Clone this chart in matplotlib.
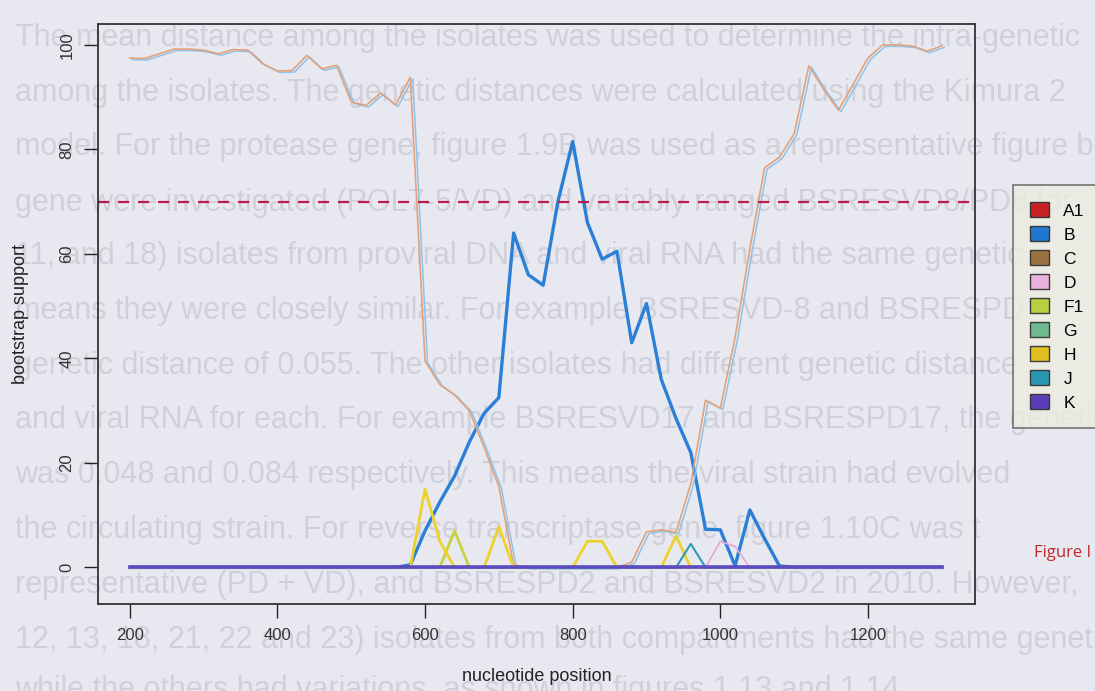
import numpy as np
import matplotlib
matplotlib.use("Agg")
import matplotlib.pyplot as plt
import matplotlib.transforms as mtransforms
from matplotlib.patches import Patch

plt.rcParams["font.family"] = ["Liberation Sans", "DejaVu Sans"]

# nucleotide positions of the bootscan windows
positions = list(range(200, 1301, 20))

A1 = [0] * 56
B = [0, 0, 0, 0, 0, 0, 0, 0, 0, 0,
     0, 0, 0, 0, 0, 0, 0, 0, 0, 0.5,
     7, 12.5, 17.5, 24, 29.5, 32.5, 64, 56, 54, 70,
     81.5, 66, 59, 60.5, 43, 50.5, 36, 28.5, 22, 7.3,
     7.2, 0.3, 11, 5.5, 0.3, 0, 0, 0, 0, 0,
     0, 0, 0, 0, 0, 0]
C = [97.5, 97.4, 98.3, 99.2, 99.2, 99.0, 98.3, 99.1, 99.0, 96.4,
     95.0, 95.1, 98.0, 95.4, 96.1, 89.1, 88.4, 90.8, 88.5, 93.8,
     39.5, 35.0, 33.0, 30.0, 23.0, 15.5, 0.5, 0, 0, 0,
     0, 0, 0, 0, 1.0, 6.8, 7.2, 6.7, 16.0, 32.0,
     30.5, 44.0, 61.0, 76.5, 78.5, 83.0, 96.0, 91.5, 87.5, 92.5,
     97.5, 100, 100, 99.8, 98.8, 99.8]
D = [0] * 39 + [0, 5, 4, 0] + [0] * 13
F1 = [0] * 21 + [0, 7, 0] + [0] * 32
G = [0] * 56
H = ([0] * 19 + [0, 15, 5, 0, 0, 0, 7.8, 0] + [0] * 4
     + [5, 5, 0] + [0, 0, 0, 6, 0] + [0] * 17)
J = [0] * 37 + [0, 4.5, 0] + [0] * 16
K = [0] * 56

subtypes = ["A1", "B", "C", "D", "F1", "G", "H", "J", "K"]
series = [A1, B, C, D, F1, G, H, J, K]
colors = ["#D42A2A", "#2C7FD6", "#E3A27C", "#E6A6D6", "#C8D23C",
          "#66B488", "#ECD22A", "#2E9AB8", "#5A4CC0"]
legend_colors = ["#C82020", "#1F78D0", "#9A7040", "#E8B0DA", "#B8D040",
                 "#70B890", "#E0C020", "#2A98B0", "#5A3CB8"]
widths = [1.2, 2.4, 1.2, 1.2, 2.0, 1.2, 2.0, 1.5, 2.6]
threshold = 70

# text of the next page showing through the paper
ghost_lines = [
    "The mean distance among the isolates was used to determine the intra-genetic",
    "among the isolates. The genetic distances were calculated using the Kimura 2",
    "model. For the protease gene, figure 1.9B was used as a representative figure be",
    "gene were investigated (POL7-5/VD) and variably ranged BSRESVD8/PD8 for",
    "11, and 18) isolates from proviral DNA and viral RNA had the same genetic",
    "means they were closely similar. For example BSRESVD-8 and BSRESPD",
    "genetic distance of 0.055. The other isolates had different genetic distance",
    "and viral RNA for each. For example BSRESVD17 and BSRESPD17, the genetic",
    "was 0.048 and 0.084 respectively. This means the viral strain had evolved",
    "the circulating strain. For reverse transcriptase gene, figure 1.10C was t",
    "representative (PD + VD), and BSRESPD2 and BSRESVD2 in 2010. However,",
    "12, 13, 18, 21, 22 and 23) isolates from both compartments had the same genetic",
    "while the others had variations, as shown in figures 1.13 and 1.14.",
]
ghost_y = [38, 93, 147, 203, 256, 311, 366, 420, 475, 530, 585, 640, 690]

W, Hh = 1095, 691
fig = plt.figure(figsize=(W / 100, Hh / 100), dpi=100)
fig.patch.set_facecolor("#E8E9F0")

for txt, yy in zip(ghost_lines, ghost_y):
    fig.text(15 / W, 1 - yy / Hh, txt, fontsize=22, color="#CFD0D9",
             va="center", ha="left", zorder=0)

ax = fig.add_axes([98 / W, 1 - 604 / Hh, (975 - 98) / W, (604 - 24) / Hh])
ax.set_facecolor("none")
ax.set_zorder(2)

for name, vals, col, lw in zip(subtypes, series, colors, widths):
    if name == "C":
        shift = mtransforms.offset_copy(ax.transData, fig=fig, x=2.5, y=-1.5, units="dots")
        ax.plot(positions, vals, color="#8EC2EA", lw=1.1, transform=shift)
    ax.plot(positions, vals, color=col, lw=lw)

ax.axhline(threshold, color="#B3204E", lw=1.6, ls=(0, (5, 4)))

ax.set_xlim(157, 1345)
ax.set_ylim(-7, 104)
ax.set_xticks([200, 400, 600, 800, 1000, 1200])
ax.set_yticks([0, 20, 40, 60, 80, 100])
ax.tick_params(axis="both", direction="out", length=10, width=1, labelsize=12,
               color="#222222", labelcolor="#333333", pad=7)
for lab in ax.get_yticklabels():
    lab.set_rotation(90)
    lab.set_va("center")
for s in ax.spines.values():
    s.set_color("#333333")
    s.set_linewidth(1.3)

ax.set_xlabel("nucleotide position", fontsize=13, color="#222222", labelpad=18)
ax.set_ylabel("bootstrap support", fontsize=13, color="#222222", labelpad=22)

handles = [Patch(facecolor=c, edgecolor="#3A3A3A", linewidth=1.0) for c in legend_colors]
leg = fig.legend(handles, subtypes, loc="upper left",
                 bbox_to_anchor=(1013 / W, 1 - 185 / Hh), borderaxespad=0,
                 fontsize=12.5, frameon=True, fancybox=False,
                 handlelength=1.1, handleheight=0.9, labelspacing=0.45,
                 borderpad=1.0, handletextpad=0.8)
leg.get_frame().set_facecolor("#ECECE0")
leg.get_frame().set_edgecolor("#555555")
leg.get_frame().set_linewidth(1.2)

fig.text(1034 / W, 1 - 553 / Hh, "Figure I", fontsize=12, color="#C0282C",
         va="center", ha="left", family=["Open Sans", "DejaVu Sans"])

fig.savefig("out.png", dpi=100)
